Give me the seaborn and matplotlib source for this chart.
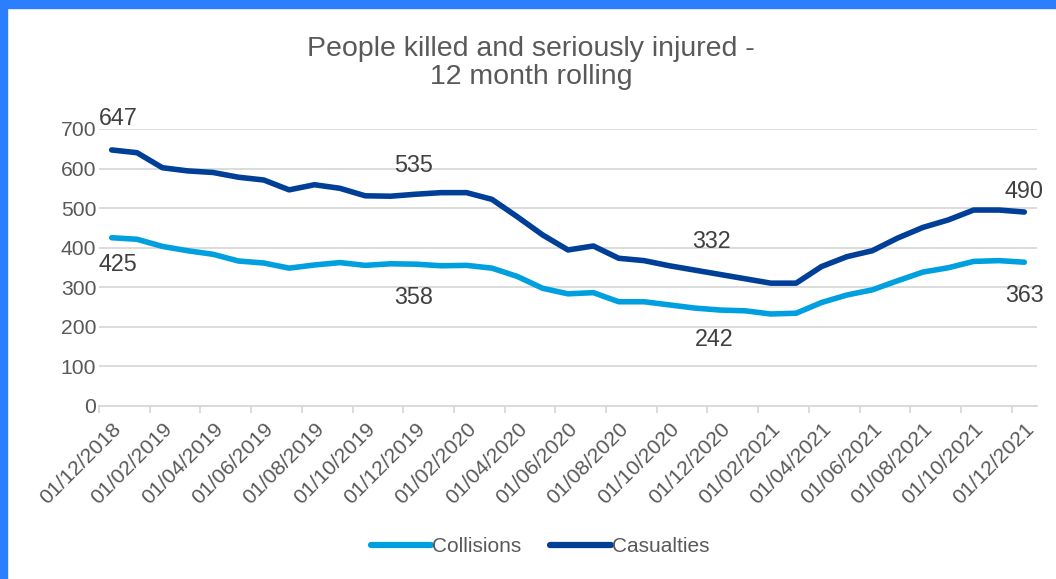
import matplotlib
matplotlib.use("Agg")
import matplotlib.pyplot as plt
import matplotlib.transforms as mtransforms
import seaborn as sns
import pandas as pd
from matplotlib.patches import Rectangle

months = pd.date_range("2018-12-01", "2021-12-01", freq="MS")
month_labels = [d.strftime("%d/%m/%Y") for d in months]

collisions = [425, 421, 403, 392, 383, 366, 361, 348, 356, 362, 355, 359, 358,
              354, 355, 348, 327, 297, 283, 286, 263, 263, 255, 247, 242, 240,
              232, 234, 261, 280, 293, 316, 338, 349, 365, 367, 363]
casualties = [647, 640, 602, 594, 590, 578, 571, 546, 559, 550, 531, 530, 535,
              539, 539, 522, 478, 432, 394, 404, 373, 367, 354, 343, 332, 321,
              310, 310, 352, 377, 392, 424, 451, 470, 495, 495, 490]

series_names = ["Collisions", "Casualties"]
colors = {"Collisions": "#00A0E0", "Casualties": "#003F98"}

df = pd.concat([
    pd.DataFrame({"idx": range(len(months)), "value": collisions, "Series": "Collisions"}),
    pd.DataFrame({"idx": range(len(months)), "value": casualties, "Series": "Casualties"}),
])

sns.set_theme(style="white")
plt.rcParams["font.family"] = ["Liberation Sans", "DejaVu Sans"]
text_color = "#595959"

fig = plt.figure(figsize=(10.56, 5.79), dpi=100)
ax = fig.add_axes([99 / 1056, 1 - 405.7 / 579, (1037 - 99) / 1056, (405.7 - 129) / 579])

sns.lineplot(data=df, x="idx", y="value", hue="Series", hue_order=series_names,
             palette=colors, linewidth=4, ax=ax, legend=True,
             solid_capstyle="round", solid_joinstyle="round")

n = len(months)
ax.set_xlim(-0.5, n - 0.5)
ax.set_ylim(0, 700)
ax.set_yticks(range(0, 701, 100))
ax.yaxis.grid(True, color="#D9D9D9", linewidth=1.3)
ax.xaxis.grid(False)
ax.set_axisbelow(True)
for s in ["left", "right", "top"]:
    ax.spines[s].set_visible(False)
ax.spines["bottom"].set_color("#D9D9D9")
ax.spines["bottom"].set_linewidth(1.3)

major = list(range(0, n, 2))
ax.set_xticks(major)
ax.set_xticklabels([month_labels[i] for i in major], rotation=45, ha="right",
                   rotation_mode="anchor", fontsize=15.2, color=text_color)
shift = mtransforms.ScaledTranslation(-5 / 100, 0, fig.dpi_scale_trans)
for lbl in ax.get_xticklabels():
    lbl.set_transform(lbl.get_transform() + shift)
ax.set_xticks([i - 0.5 for i in range(0, n, 2)], minor=True)
ax.tick_params(axis="x", which="major", length=0, pad=10)
ax.tick_params(axis="x", which="minor", length=5, width=1.3, color="#D9D9D9", bottom=True)
ax.tick_params(axis="y", length=0, labelsize=15.2, labelcolor=text_color, pad=2)
ax.set_xlabel("")
ax.set_ylabel("")

# data labels: (index, series, x offset pt, y offset pt)
label_specs = [
    (0, casualties, 4.5, 23), (12, casualties, -2, 21), (24, casualties, -6, 24), (36, casualties, 0, 15),
    (0, collisions, 4.5, -19), (12, collisions, -2, -24), (24, collisions, -4, -21), (36, collisions, 0, -24),
]
for i, ser, dx, dy in label_specs:
    ax.annotate(str(ser[i]), (i, ser[i]), xytext=(dx, dy), textcoords="offset points",
                ha="center", va="center", fontsize=16.8, color="#404040")

fig.text(531 / 1056, 1 - 36 / 579, "People killed and seriously injured -\n12 month rolling",
         ha="center", va="top", fontsize=20.5, color=text_color, linespacing=1.12)

handles, labels = ax.get_legend_handles_labels()
ax.get_legend().remove()
leg = fig.legend(handles, labels, loc="center", bbox_to_anchor=(540 / 1056, 1 - 547 / 579),
                 ncol=2, frameon=False, fontsize=15, handlelength=2.9,
                 handletextpad=0.05, columnspacing=1.4)
for t in leg.get_texts():
    t.set_color(text_color)
for h in leg.get_lines():
    h.set_linewidth(4.5)
    h.set_solid_capstyle("round")

# blue frame (top and left)
fig.patches.append(Rectangle((0, 1 - 8 / 579), 1, 8 / 579, transform=fig.transFigure,
                             color="#2B7FFF", zorder=10))
fig.patches.append(Rectangle((0, 0), 7 / 1056, 1, transform=fig.transFigure,
                             color="#2B7FFF", zorder=10))

fig.savefig("out.png", dpi=100, facecolor="white")
